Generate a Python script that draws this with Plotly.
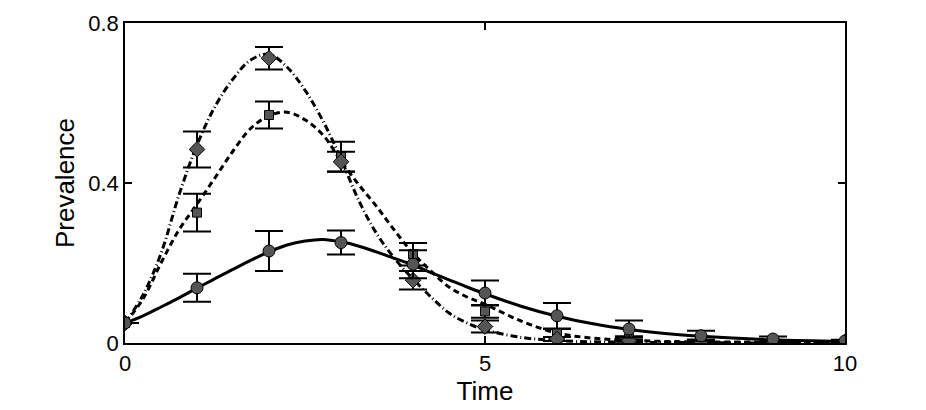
import plotly.graph_objects as go

# observed data (time, prevalence +- error)
t_obs = [0, 1, 2, 3, 4, 5, 6, 7, 8, 9, 10]
y_circ = [0.05, 0.138, 0.23, 0.251, 0.197, 0.125, 0.068, 0.035, 0.018, 0.01, 0.005]
e_circ = [0.0, 0.035, 0.05, 0.03, 0.035, 0.031, 0.032, 0.021, 0.0125, 0.006, 0.003]
y_sq = [0.05, 0.326, 0.57, 0.466, 0.222, 0.079, 0.025, 0.012, 0.006, 0.004, 0.003]
e_sq = [0.0, 0.047, 0.034, 0.037, 0.028, 0.016, 0.01, 0.005, 0.003, 0.002, 0.002]
y_dia = [0.05, 0.484, 0.712, 0.453, 0.157, 0.041, 0.01, 0.006, 0.004, 0.003, 0.003]
e_dia = [0.0, 0.045, 0.028, 0.025, 0.023, 0.015, 0.005, 0.003, 0.002, 0.002, 0.002]

# fitted curves
t_fit = [0, 0.25, 0.5, 0.75, 1.0, 1.25, 1.5, 1.75, 2.0, 2.25, 2.5, 2.75, 3.0, 3.25, 3.5,
         3.75, 4.0, 4.25, 4.5, 4.75, 5.0, 5.5, 6.0, 6.5, 7.0, 7.5, 8.0, 9.0, 10.0]
fit_solid = [0.05, 0.068, 0.09, 0.113, 0.137, 0.161, 0.184, 0.207, 0.228, 0.245, 0.255, 0.259,
             0.253, 0.242, 0.227, 0.211, 0.195, 0.176, 0.158, 0.14, 0.123, 0.092, 0.067, 0.048,
             0.034, 0.024, 0.017, 0.008, 0.004]
fit_dash = [0.05, 0.11, 0.2, 0.283, 0.347, 0.413, 0.48, 0.537, 0.568, 0.577, 0.558, 0.52,
            0.455, 0.395, 0.34, 0.28, 0.224, 0.18, 0.14, 0.115, 0.097, 0.055, 0.025, 0.012,
            0.007, 0.004, 0.003, 0.002, 0.001]
fit_dashdot = [0.05, 0.12, 0.224, 0.37, 0.495, 0.591, 0.66, 0.708, 0.722, 0.69, 0.632, 0.555,
               0.46, 0.355, 0.272, 0.21, 0.16, 0.115, 0.075, 0.05, 0.033, 0.014, 0.006, 0.003,
               0.002, 0.001, 0.001, 0.0, 0.0]

FONT = "Liberation Sans, Arial, sans-serif"
MFILL = "#555555"

fig = go.Figure()
for yy, dash in [(fit_solid, "solid"), (fit_dash, "6px,4px"), (fit_dashdot, "7px,3px,1px,3px")]:
    fig.add_trace(go.Scatter(x=t_fit, y=yy, mode="lines", line=dict(color="black", width=3, dash=dash, shape="spline"),
                             hoverinfo="skip", showlegend=False))

for yy, ee, sym, sz in [(y_sq, e_sq, "square", 9), (y_dia, e_dia, "diamond", 12), (y_circ, e_circ, "circle", 12)]:
    fig.add_trace(go.Scatter(x=t_obs, y=yy, mode="markers",
                             marker=dict(symbol=sym, size=sz, color=MFILL, line=dict(color="black", width=1)),
                             error_y=dict(type="data", array=ee, visible=True, color="black", thickness=2, width=14),
                             showlegend=False))

axis_common = dict(showline=True, linecolor="black", linewidth=1.5, mirror="ticks", ticks="inside",
                   ticklen=7, tickcolor="black", tickwidth=1.5, showgrid=False, zeroline=False,
                   automargin=False, tickfont=dict(family=FONT, size=22, color="black"))
fig.update_xaxes(range=[0, 10], tickvals=[0, 5, 10], ticktext=["0", "5", "10"],
                 title=dict(text="Time", font=dict(family=FONT, size=26, color="black"), standoff=2),
                 **axis_common)
fig.update_yaxes(range=[0, 0.8], tickvals=[0, 0.4, 0.8], ticktext=["0", "0.4", "0.8"],
                 title=dict(text="Prevalence", font=dict(family=FONT, size=26, color="black"), standoff=6),
                 **axis_common)
# page body has an 8px margin, so the figure is shifted by that much
fig.update_layout(width=918, height=402, margin=dict(l=117, r=81, t=15, b=67),
                  plot_bgcolor="white", paper_bgcolor="white")
fig.write_html("out.html")
